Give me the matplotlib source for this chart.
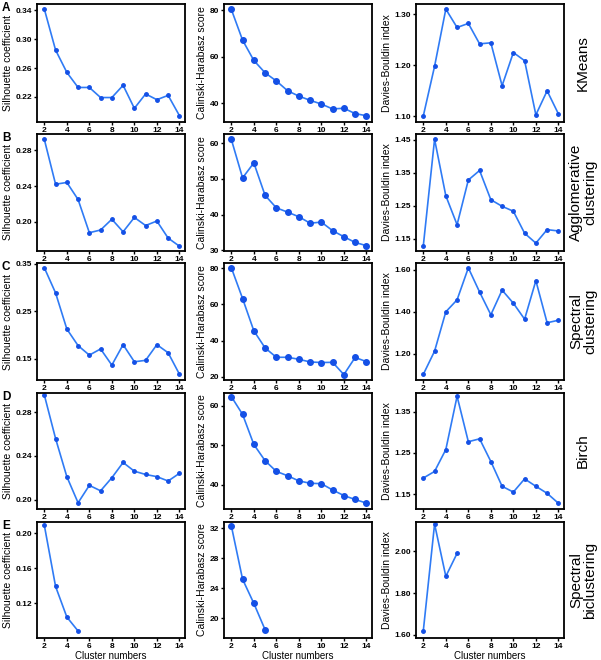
import matplotlib.pyplot as plt
import numpy as np

plt.rcParams['font.family'] = ['Liberation Sans', 'DejaVu Sans']

# cluster numbers
k = np.arange(2, 15)
k_bi = np.array([2, 3, 4, 5])

# KMeans
km_sil = [0.342, 0.285, 0.254, 0.233, 0.233, 0.219, 0.219, 0.236, 0.204, 0.224, 0.216, 0.222, 0.194]
km_ch = [80.3, 67.1, 58.4, 53.1, 49.6, 45.4, 43.1, 41.3, 39.7, 37.6, 37.9, 35.6, 34.7]
km_db = [1.101, 1.198, 1.310, 1.274, 1.282, 1.242, 1.244, 1.160, 1.225, 1.209, 1.103, 1.150, 1.105]

# Agglomerative
ag_sil = [0.292, 0.242, 0.244, 0.225, 0.188, 0.191, 0.203, 0.189, 0.205, 0.196, 0.201, 0.182, 0.173]
ag_ch = [61.1, 50.3, 54.5, 45.4, 41.9, 40.7, 39.4, 37.6, 37.9, 35.5, 33.8, 32.2, 31.3]
ag_db = [1.128, 1.452, 1.280, 1.192, 1.328, 1.357, 1.268, 1.248, 1.233, 1.166, 1.136, 1.177, 1.173]

# Spectral
sp_sil = [0.342, 0.289, 0.213, 0.178, 0.158, 0.171, 0.137, 0.180, 0.144, 0.147, 0.180, 0.163, 0.118]
sp_ch = [80.4, 63.3, 45.4, 35.9, 30.7, 30.7, 29.6, 28.1, 27.8, 27.9, 21.1, 30.6, 28.3]
sp_db = [1.103, 1.213, 1.400, 1.457, 1.609, 1.494, 1.386, 1.503, 1.441, 1.365, 1.548, 1.348, 1.360]

# Birch
bi_sil = [0.296, 0.256, 0.221, 0.197, 0.213, 0.208, 0.220, 0.234, 0.226, 0.223, 0.221, 0.217, 0.224]
bi_ch = [62.3, 57.8, 50.2, 46.1, 43.4, 42.3, 41.0, 40.4, 40.3, 38.7, 37.3, 36.3, 35.4]
bi_db = [1.189, 1.205, 1.258, 1.387, 1.277, 1.284, 1.229, 1.169, 1.155, 1.187, 1.169, 1.152, 1.128]

# Spectral biclustering
sb_sil = [0.209, 0.139, 0.104, 0.088]
sb_ch = [32.3, 25.2, 22.0, 18.5]
sb_db = [1.62, 2.13, 1.88, 1.99]

rows = [
    ("A", "KMeans", k, km_sil, km_ch, km_db,
     [(0.185, 0.349), (32, 82.6), (1.089, 1.32)],
     [[0.22, 0.26, 0.30, 0.34], [40, 60, 80], [1.10, 1.20, 1.30]]),
    ("B", "Agglomerative\nclustering", k, ag_sil, ag_ch, ag_db,
     [(0.1676, 0.298), (29.8, 62.6), (1.112, 1.468)],
     [[0.20, 0.24, 0.28], [30, 40, 50, 60], [1.15, 1.25, 1.35, 1.45]]),
    ("C", "Spectral\nclustering", k, sp_sil, sp_ch, sp_db,
     [(0.1056, 0.352), (18.1, 83), (1.076, 1.632)],
     [[0.15, 0.25, 0.35], [20, 40, 60, 80], [1.20, 1.40, 1.60]]),
    ("D", "Birch", k, bi_sil, bi_ch, bi_db,
     [(0.1913, 0.2978), (33.9, 63.2), (1.114, 1.395)],
     [[0.20, 0.24, 0.28], [40, 50, 60], [1.15, 1.25, 1.35]]),
    ("E", "Spectral\nbiclustering", k_bi, sb_sil, sb_ch, sb_db,
     [(0.08, 0.2127), (17.4, 32.8), (1.585, 2.14)],
     [[0.12, 0.16, 0.20], [20, 24, 28, 32], [1.60, 1.80, 2.00]]),
]

ylabels = ["Silhouette coefficient", "Calinski-Harabasz score", "Davies-Bouldin index"]
fmts = ["{:.2f}", "{:.0f}", "{:.2f}"]
msizes = [2.5, 4, 2.5]

fig = plt.figure(figsize=(6.01, 6.6), dpi=100)

lefts = [37 / 601, 224 / 601, 416 / 601]
width = 148 / 601
tops = [4, 134, 263, 393, 522]
bottoms = [122, 251, 380, 509, 638]

line_c = '#2f7bf5'
mark_c = '#1450e6'

for r, (letter, name, x, sil, ch, db, lims, ticks) in enumerate(rows):
    b = 1 - bottoms[r] / 660
    h = (bottoms[r] - tops[r]) / 660
    for c, vals in enumerate([sil, ch, db]):
        ax = fig.add_axes([lefts[c], b, width, h])
        ax.plot(x, vals, color=line_c, lw=1.2, marker='o', ms=msizes[c],
                mfc=mark_c, mec=mark_c)
        ax.set_xlim(1.35, 14.5)
        ax.set_ylim(*lims[c])
        ax.set_xticks([2, 4, 6, 8, 10, 12, 14])
        ax.set_yticks(ticks[c])
        ax.set_yticklabels([fmts[c].format(t) for t in ticks[c]])
        ax.set_ylabel(ylabels[c], fontsize=7.5, labelpad=2)
        ax.tick_params(labelsize=6, width=1, length=2.5, pad=1)
        for lab in ax.get_xticklabels() + ax.get_yticklabels():
            lab.set_fontweight('bold')
        for s in ax.spines.values():
            s.set_linewidth(1.3)
        if r == 4:
            ax.set_xlabel("Cluster numbers", fontsize=7, labelpad=0.5)
    fig.text(2 / 601, 1 - (tops[r] + 4) / 660, letter, fontsize=8.5, fontweight='bold',
             va='center', ha='left')
    fig.text(583 / 601, 1 - (tops[r] + bottoms[r]) / 2 / 660, name, fontsize=11,
             rotation=90, ha='center', va='center', linespacing=1.0)

fig.savefig("out.png", dpi=100)
